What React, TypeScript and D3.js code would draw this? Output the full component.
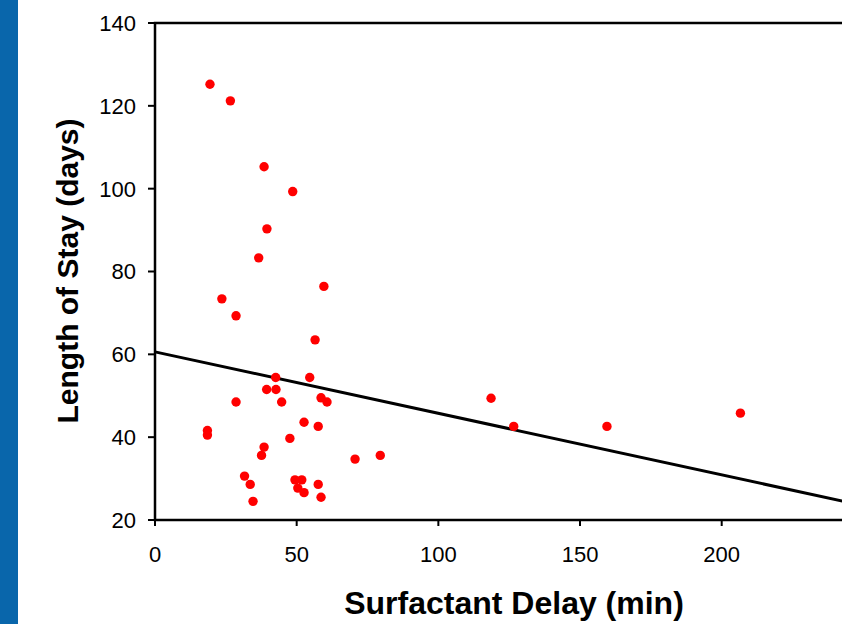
import React from "react";
import * as d3 from "d3";

const delayMin = [19.4, 26.6, 38.5, 48.6, 39.5, 36.6, 59.6, 23.6, 28.6, 56.5, 42.6, 54.6, 39.4, 42.7, 28.6, 44.7, 58.6, 60.7, 52.6, 57.6, 18.5, 18.5, 47.6, 38.5, 37.6, 70.6, 79.5, 31.6, 33.6, 49.4, 51.8, 50.4, 52.6, 57.6, 58.6, 34.6, 118.6, 126.6, 159.5, 206.6];
const stayDays = [125.2, 121.2, 105.3, 99.3, 90.3, 83.3, 76.4, 73.4, 69.3, 63.5, 54.4, 54.4, 51.5, 51.5, 48.5, 48.5, 49.5, 48.5, 43.6, 42.6, 41.6, 40.5, 39.7, 37.6, 35.6, 34.7, 35.6, 30.6, 28.6, 29.7, 29.7, 27.7, 26.6, 28.6, 25.5, 24.5, 49.4, 42.6, 42.6, 45.8];
const xTicks = [0, 50, 100, 150, 200];
const yTicks = [20, 40, 60, 80, 100, 120, 140];
const trendIntercept = 60.6;
const trendSlope = -0.1485;

export default function App() {
  const W = 842, H = 624;
  const x = d3.scaleLinear().domain([0, 250]).range([155, 155 + 250 * 2.8335]);
  const y = d3.scaleLinear().domain([20, 140]).range([520, 23]);
  const font = "'Liberation Sans', Arial, sans-serif";
  const pts = delayMin.map((d, i) => [d, stayDays[i]] as [number, number]);
  const line = d3.line<number>().x((d) => x(d)).y((d) => y(trendIntercept + trendSlope * d));
  return (
    <svg width={W} height={H} style={{ position: "absolute", left: 0, top: 0, background: "#fff" }} fontFamily={font}>
      <rect x={0} y={0} width={18} height={H} fill="#0966ab" />
      <rect x={x(0)} y={y(140)} width={x(250) - x(0)} height={y(20) - y(140)} fill="none" stroke="#000" strokeWidth={2.5} />
      {yTicks.map((t) => (
        <g key={"y" + t}>
          <line x1={x(0) - 7} x2={x(0)} y1={y(t)} y2={y(t)} stroke="#000" strokeWidth={2} />
          <text x={136} y={y(t)} dy="0.36em" textAnchor="end" fontSize={22} fill="#000">{t}</text>
        </g>
      ))}
      {xTicks.map((t) => (
        <g key={"x" + t}>
          <line x1={x(t)} x2={x(t)} y1={y(20)} y2={y(20) + 6} stroke="#000" strokeWidth={2} />
          <text x={x(t)} y={562} textAnchor="middle" fontSize={22} fill="#000">{t}</text>
        </g>
      ))}
      <path d={line([0, 250]) || ""} stroke="#000" strokeWidth={3} fill="none" />
      {pts.map((p, i) => (
        <circle key={i} cx={x(p[0])} cy={y(p[1])} r={4.7} fill="#ff0000" />
      ))}
      <text x={514} y={614} textAnchor="middle" fontSize={32} fontWeight="bold" fill="#000">Surfactant Delay (min)</text>
      <text transform={`translate(78,271) rotate(-90)`} textAnchor="middle" fontSize={30} fontWeight="bold" fill="#000">Length of Stay (days)</text>
    </svg>
  );
}
